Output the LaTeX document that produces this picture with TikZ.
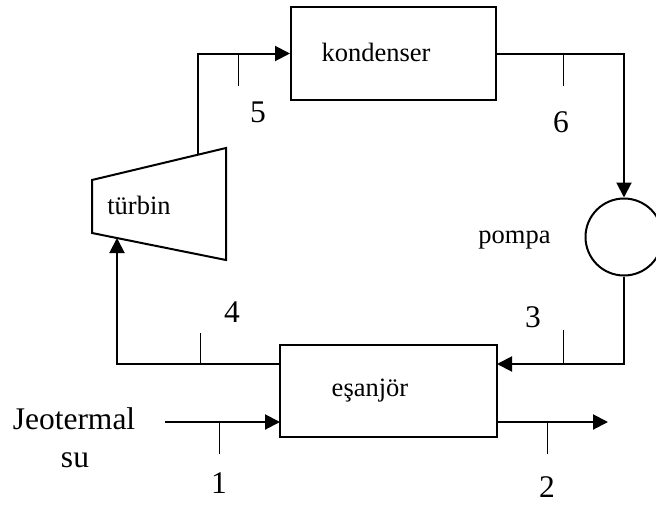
\documentclass[tikz,border=0pt]{standalone}
\usepackage{fontspec}
\setmainfont{Liberation Serif}
\usetikzlibrary{arrows.meta,calc}
\begin{document}
\begin{tikzpicture}[x=1pt,y=-1pt,
  flow/.style={line width=2pt,line join=miter},
  arr/.style={flow,-{Triangle[length=15pt,width=15pt]}},
  tick/.style={line width=1pt},
  box/.style={draw,line width=2pt,rectangle,inner sep=0pt},
  lbl/.style={font=\fontsize{26.5}{30}\selectfont,anchor=base,inner sep=0pt},
  num/.style={font=\fontsize{31.5}{36}\selectfont,anchor=base,inner sep=0pt}]
\useasboundingbox (0,0) rectangle (656,504);

% components
\node[box,minimum width=205pt,minimum height=93pt] (kond) at (393.5,53.5) {};
\node[lbl] (kondl) at (376,61) {kondenser};

\node[box,minimum width=217pt,minimum height=92pt] (esan) at (388.5,391) {};
\node[lbl] (esanl) at (370,396) {eşanjör};

\node[draw,line width=2pt,circle,minimum size=77pt,inner sep=0pt] (pump) at (624,237) {};
\node[lbl] (pumpl) at (514.5,243) {pompa};

\coordinate (t1) at (92,180);
\coordinate (t2) at (226,148);
\coordinate (t3) at (226,260);
\coordinate (t4) at (92,233);
\draw[line width=2pt,line join=miter] (t1) -- (t2) -- (t3) -- (t4) -- cycle;
\node[lbl] (turbl) at (139,214) {türbin};

% ports
\coordinate (tout) at (198,154.7);
\coordinate (tin) at (117,238);
\coordinate (kin) at (kond.west);
\coordinate (e3) at (497,364);
\coordinate (e4) at (280,364);
\coordinate (e1) at (280,422);
\coordinate (e2) at (497,422);
\coordinate (gin) at (165,422);
\coordinate (gout) at (608,422);

% connectors
\draw[arr] (tout) -- (tout |- kin) -- (kin);
\draw[arr] (kond.east) -- (kond.east -| pump) -- (pump.north);
\draw[arr] (pump.south) -- (pump.south |- e3) -- (e3);
\draw[arr] (e4) -- (tin |- e4) -- (tin);
\draw[arr] (gin) -- (e1);
\draw[arr] (e2) -- (gout);

% state ticks
\draw[tick] (238,53) -- (238,86);
\draw[tick] (563,54) -- (563,86);
\draw[tick] (563,330) -- (563,364);
\draw[tick] (200,333) -- (200,364);
\draw[tick] (219,422) -- (219,454);
\draw[tick] (547,422) -- (547,454);

% state numbers
\node[num] (n5) at (258,122) {5};
\node[num] (n6) at (561,132) {6};
\node[num] (n4) at (232,322) {4};
\node[num] (n3) at (533,327) {3};
\node[num] (n1) at (219,493) {1};
\node[num] (n2) at (547,497) {2};

\node[num] (jeo) at (74,429) {Jeotermal};
\node[num] (su) at (75,467) {su};
\end{tikzpicture}
\end{document}
